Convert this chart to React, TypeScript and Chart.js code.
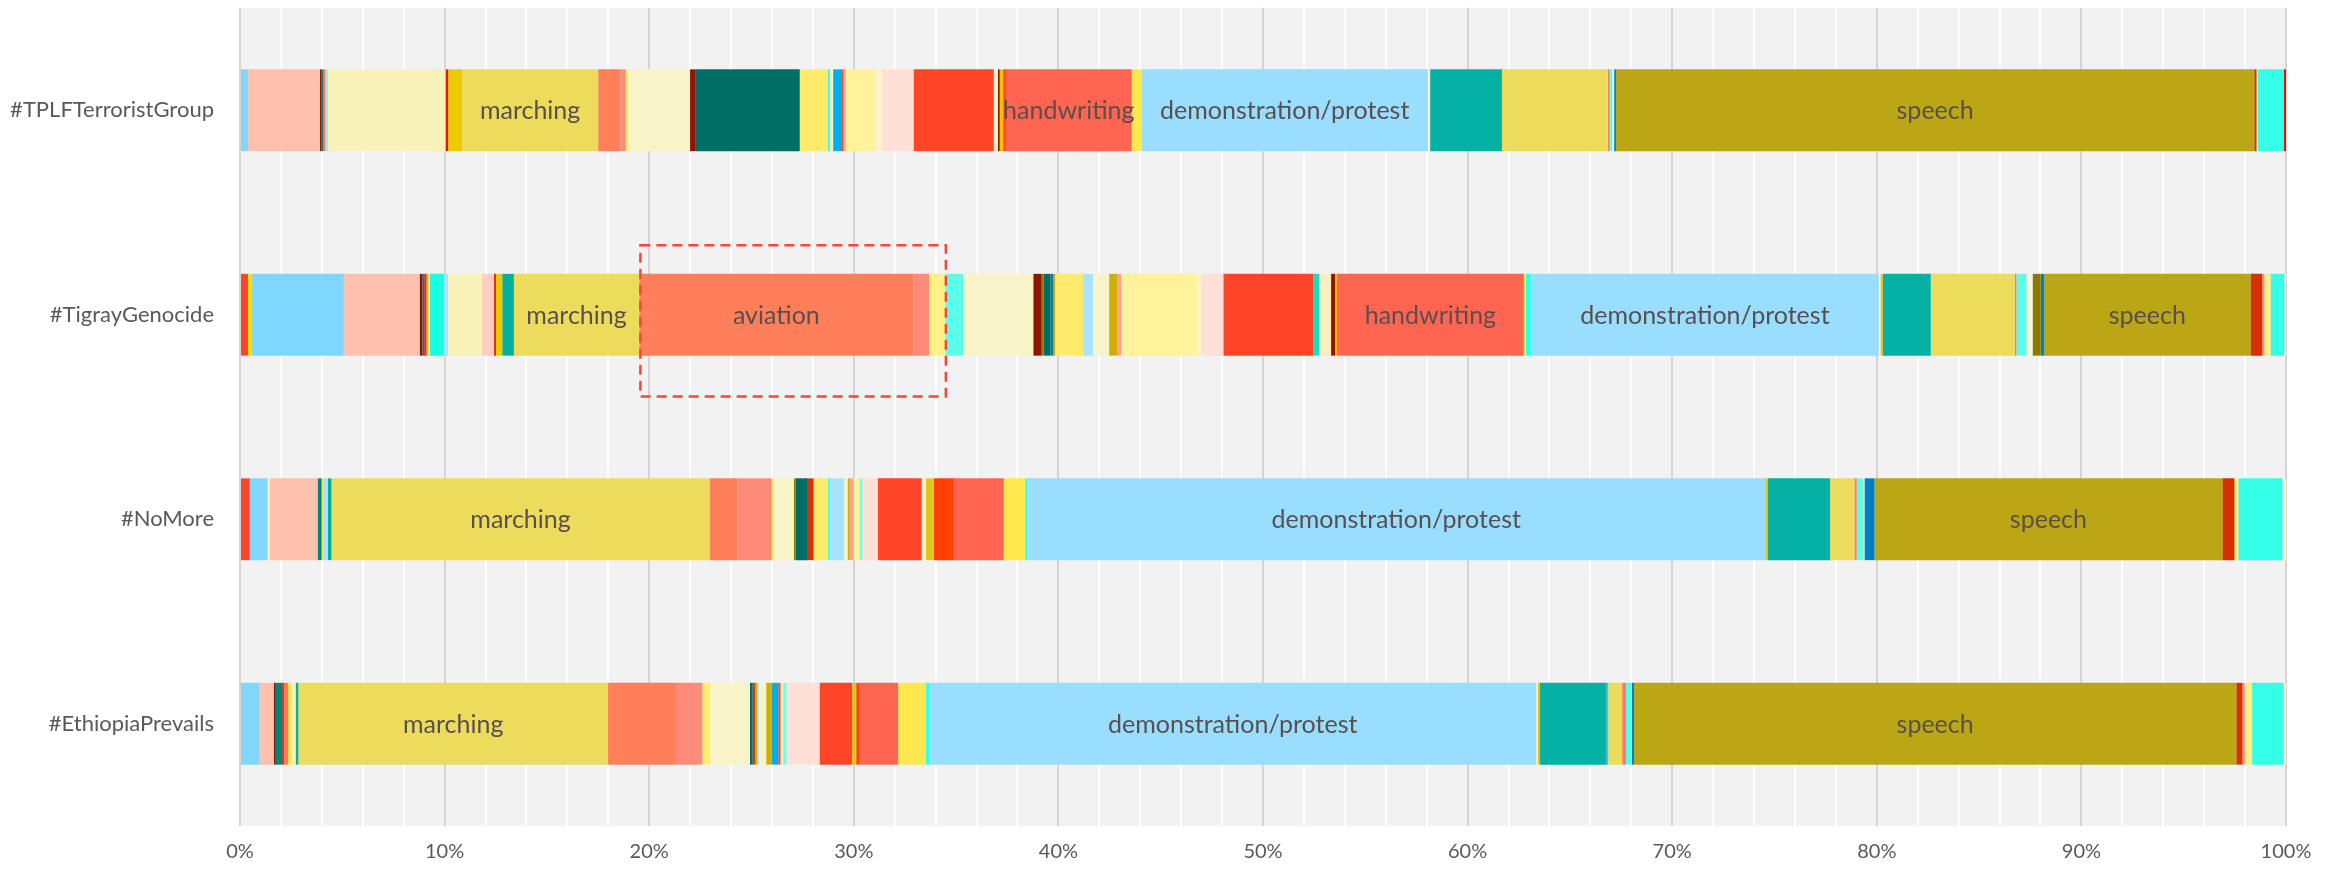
import React, { useEffect, useRef } from "react";
import { Chart, registerables } from "chart.js";

Chart.register(...registerables);

const categories = ["#TPLFTerroristGroup", "#TigrayGenocide", "#NoMore", "#EthiopiaPrevails"];

const xTickValues = [0, 10, 20, 30, 40, 50, 60, 70, 80, 90, 100];

const seriesNames = [
  "s01", "s02", "s03", "s04", "s05", "s06", "s07", "s08", "s09", "s10",
  "s11", "s12", "s13", "s14", "s15", "s16", "s17", "marching", "aviation", "s20",
  "s21", "s22", "s23", "s24", "s25", "s26", "s27", "s28", "s29", "s30",
  "s31", "s32", "s33", "s34", "s35", "s36", "s37", "s38", "s39", "s40",
  "s41", "s42", "s43", "s44", "s45", "s46", "s47", "s48", "s49", "s50",
  "handwriting", "s52", "s53", "demonstration/protest", "s55", "s56", "s57", "s58", "s59", "s60",
  "s61", "s62", "s63", "s64", "speech", "s66", "s67", "s68", "s69", "s70",
  "s71",
];

const seriesColors = [
  "#FF4428", "#FFE000", "#7FD7FF", "#FFF5B0", "#FFC1AE", "#8B1600", "#00857A", "#E8280A", "#FF7A55", "#FFE54D",
  "#19FFE5", "#A6E3FF", "#F8F1B8", "#FFCFC2", "#E31A0A", "#EBCB00", "#05AF9F", "#EDDC5C", "#FF7F5A", "#FF8C7A",
  "#FFEE66", "#FFF08A", "#5AFFE9", "#F9F4C8", "#901500", "#8A7A00", "#006E64", "#D93200", "#0080B0", "#D9A400",
  "#FFEA6A", "#40FFE0", "#A6E3FF", "#F8F3C8", "#CFB000", "#00AEEF", "#FF4A1A", "#FFA090", "#FFF29A", "#FAF4CC",
  "#70FFE0", "#FFE0D6", "#FF4428", "#FBF3CC", "#E0C81A", "#1ADDC0", "#FBEFC0", "#9B1200", "#F2C200", "#FF4000",
  "#FF6550", "#FFE84D", "#33FFE8", "#99DEFF", "#FAF4C8", "#EBC000", "#05B0A5", "#40B8F0", "#EDDC5C", "#FF7A65",
  "#5AFFE8", "#FAF6D8", "#8C7A00", "#0080C0", "#BBA613", "#D83000", "#FF8A70", "#FFEE80", "#36FFE8", "#FAF3C8",
  "#E01000",
];

const tplfValues = [
  0, 0, 0.39, 0, 3.51, 0.09, 0.09, 0, 0.09, 0,
  0, 0.13, 5.74, 0, 0.13, 0.68, 0, 6.65, 1.09, 0.26,
  0.13, 0, 0, 3.01, 0.28, 0, 5.08, 0, 0, 0,
  1.37, 0.11, 0, 0.15, 0, 0.39, 0.11, 0.11, 1.46, 0.31,
  0, 1.55, 3.92, 0.2, 0, 0, 0, 0.09, 0.17, 0.13,
  6.15, 0.48, 0, 13.99, 0.11, 0, 3.51, 0, 5.17, 0.09,
  0.13, 0.09, 0, 0.09, 31.19, 0.11, 0, 0.06, 1.27, 0,
  0.11,
];

const tigrayValues = [
  0.39, 0.2, 4.49, 0, 3.71, 0.13, 0.09, 0.09, 0.09, 0.09,
  0.7, 0.2, 1.64, 0.61, 0.09, 0.31, 0.57, 6.13, 13.42, 0.76,
  0.1, 0.7, 0.87, 3.43, 0.41, 0.09, 0.35, 0, 0.13, 0.09,
  1.37, 0, 0.48, 0.79, 0.39, 0, 0, 0.2, 3.71, 0.2,
  0, 1.09, 4.39, 0, 0, 0.31, 0.57, 0.2, 0.09, 0,
  9.14, 0.09, 0.26, 17.02, 0.08, 0.11, 2.35, 0, 4.11, 0.08,
  0.49, 0.3, 0.4, 0.17, 10.09, 0.57, 0.11, 0.3, 0.68, 0.08,
  0,
];

const noMoreValues = [
  0.48, 0, 0.87, 0.11, 2.33, 0, 0.2, 0, 0, 0.07,
  0, 0.24, 0, 0, 0, 0, 0.17, 18.48, 1.37, 1.66,
  0.11, 0, 0, 0.98, 0, 0.09, 0.59, 0.28, 0, 0,
  0.7, 0.09, 0.7, 0.17, 0.11, 0, 0, 0.17, 0.31, 0,
  0.13, 0.76, 2.14, 0.2, 0.39, 0, 0, 0, 0, 0.98,
  2.44, 1.05, 0.09, 36.08, 0, 0.11, 3.05, 0, 1.19, 0.11,
  0.3, 0.08, 0, 0.49, 17.0, 0.59, 0, 0.19, 2.16, 0.17,
  0,
];

const ethiopiaValues = [
  0, 0, 0.96, 0, 0.7, 0.09, 0.31, 0.09, 0.2, 0.17,
  0, 0, 0.2, 0, 0, 0, 0.13, 15.14, 3.32, 1.29,
  0.37, 0, 0, 1.96, 0, 0, 0.13, 0.11, 0, 0.11,
  0, 0, 0.09, 0.35, 0.28, 0.31, 0.11, 0, 0, 0.13,
  0.17, 1.61, 1.59, 0, 0.2, 0, 0, 0, 0, 0.17,
  1.88, 1.35, 0.17, 29.67, 0.07, 0.11, 3.25, 0.09, 0.68, 0.19,
  0.28, 0, 0, 0.11, 29.44, 0.3, 0.11, 0.36, 1.55, 0.11,
  0,
];

const labeledSeries = ["marching", "aviation", "handwriting", "demonstration/protest", "speech"];
const labelMinShare = 4;

// highlight box around the aviation segment (data units)
const highlightCategory = "#TigrayGenocide";
const highlightFrom = 19.57;
const highlightTo = 34.5;
const highlightAbove = 0.34;
const highlightBelow = 0.4;

const FONT = "Lato, 'Noto Sans', sans-serif";

function toShares(values: number[]): number[] {
  const total = values.reduce((a, b) => a + b, 0);
  return values.map((v) => (v / total) * 100);
}

export default function App() {
  const canvasRef = useRef<HTMLCanvasElement | null>(null);

  useEffect(() => {
    const canvas = canvasRef.current;
    if (!canvas) return;

    const rows = [tplfValues, tigrayValues, noMoreValues, ethiopiaValues].map(toShares);

    const datasets = seriesNames.map((name, i) => ({
      label: name,
      data: rows.map((r) => r[i]),
      backgroundColor: seriesColors[i],
      borderWidth: 0,
      barPercentage: 0.5,
      categoryPercentage: 0.8,
    }));

    const bgPlugin = {
      id: "plotBg",
      beforeDraw(chart: any) {
        const { ctx, chartArea: a, width, height } = chart;
        ctx.save();
        ctx.fillStyle = "#FFFFFF";
        ctx.fillRect(0, 0, width, height);
        ctx.fillStyle = "#F2F2F2";
        ctx.fillRect(a.left, a.top, a.right - a.left, a.bottom - a.top);
        ctx.restore();
      },
    };

    const labelPlugin = {
      id: "segLabels",
      afterDatasetsDraw(chart: any) {
        const ctx = chart.ctx;
        ctx.save();
        ctx.font = `25px ${FONT}`;
        ctx.fillStyle = "#594F4F";
        ctx.textAlign = "center";
        ctx.textBaseline = "middle";
        chart.data.datasets.forEach((ds: any, i: number) => {
          if (!labeledSeries.includes(ds.label)) return;
          const meta = chart.getDatasetMeta(i);
          meta.data.forEach((el: any, j: number) => {
            if (ds.data[j] < labelMinShare) return;
            const p = el.getProps(["x", "y", "base"], true);
            ctx.fillText(ds.label, (p.x + p.base) / 2, p.y + 1);
          });
        });
        ctx.restore();
      },
    };

    const boxPlugin = {
      id: "highlightBox",
      afterDraw(chart: any) {
        const ctx = chart.ctx;
        const xs = chart.scales.x;
        const ys = chart.scales.y;
        const idx = categories.indexOf(highlightCategory);
        const band = ys.getPixelForValue(1) - ys.getPixelForValue(0);
        const yc = ys.getPixelForValue(idx);
        const x1 = xs.getPixelForValue(highlightFrom);
        const x2 = xs.getPixelForValue(highlightTo);
        const y1 = yc - band * highlightAbove;
        const y2 = yc + band * highlightBelow;
        ctx.save();
        ctx.strokeStyle = "#F4473A";
        ctx.lineWidth = 2.5;
        ctx.setLineDash([10, 6]);
        ctx.strokeRect(x1, y1, x2 - x1, y2 - y1);
        ctx.restore();
      },
    };

    const chart = new Chart(canvas, {
      type: "bar",
      data: { labels: categories, datasets },
      options: {
        indexAxis: "y",
        animation: false,
        responsive: true,
        maintainAspectRatio: false,
        layout: { padding: { top: 8, right: 52, bottom: 0, left: 0 } },
        plugins: {
          legend: { display: false },
          tooltip: { enabled: false },
        },
        scales: {
          x: {
            stacked: true,
            min: 0,
            max: 100,
            afterFit: (scale: any) => {
              scale.height = 44;
            },
            afterBuildTicks: (scale: any) => {
              const t = [];
              for (let v = 0; v <= 100; v += 2) t.push({ value: v });
              scale.ticks = t;
            },
            ticks: {
              autoSkip: false,
              maxRotation: 0,
              padding: 14,
              color: "#595959",
              font: { family: FONT, size: 20 },
              callback: (v: any) => (xTickValues.includes(Number(v)) ? `${v}%` : ""),
            },
            grid: {
              color: (c: any) => (c.tick && c.tick.value % 10 === 0 ? "#DAD2D2" : "#FFFFFF"),
              lineWidth: 2,
              drawTicks: false,
            },
            border: { display: false },
          },
          y: {
            stacked: true,
            afterFit: (scale: any) => {
              scale.width = 240;
              scale.paddingTop = 0;
              scale.paddingBottom = 0;
            },
            ticks: {
              padding: 18,
              color: "#595959",
              font: { family: FONT, size: 22 },
            },
            grid: { display: false },
            border: { display: false },
          },
        },
      },
      plugins: [bgPlugin, labelPlugin, boxPlugin],
    } as any);

    return () => chart.destroy();
  }, []);

  return (
    <div style={{ position: "fixed", left: 0, top: 0, width: 2338, height: 870, background: "#FFFFFF" }}>
      <canvas ref={canvasRef} />
    </div>
  );
}
